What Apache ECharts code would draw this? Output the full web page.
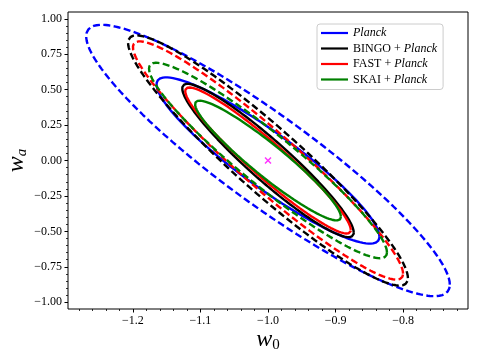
<!DOCTYPE html>
<html><head><meta charset="utf-8">
<script src="https://cdn.jsdelivr.net/npm/echarts@6/dist/echarts.min.js"></script>
<style>html,body{margin:0;padding:0;background:#fff}#c{width:480px;height:360px}</style>
</head><body><div id="c"></div>
<script>
// ---- data (Fisher forecast ellipses in the w0-wa plane) ----
const experiments = ['Planck', 'BINGO + Planck', 'FAST + Planck', 'SKAI + Planck'];
const colors = ['#0000ff', '#000000', '#ff0000', '#008000'];
const fiducial = [-1.0, 0.0];
const sigmaW0 = [0.1085, 0.0835, 0.0806, 0.0710];
const sigmaWa = [0.386, 0.356, 0.339, 0.278];
const rho = [-0.915, -0.94, -0.95, -0.94];
const contourLevels = [1.52, 2.48];           // 68% (solid) and 95% (dashed)
const xTicks = [-1.2, -1.1, -1.0, -0.9, -0.8];
const yTicks = [-1.0, -0.75, -0.5, -0.25, 0.0, 0.25, 0.5, 0.75, 1.0];
const xRange = [-1.296, -0.704];
const yRange = [-1.048, 1.048];

function ellipse(i, k) {
  const pts = [], N = 240, s = Math.sqrt(1 - rho[i] * rho[i]);
  for (let j = 0; j <= N; j++) {
    const t = 2 * Math.PI * j / N, c = Math.cos(t), sn = Math.sin(t);
    pts.push([fiducial[0] + k * sigmaW0[i] * c,
              fiducial[1] + k * sigmaWa[i] * (rho[i] * c + s * sn)]);
  }
  return pts;
}
const xMinor = [], yMinor = [];
for (let v = -1.28; v <= -0.715; v += 0.02) xMinor.push(+v.toFixed(2));
for (let v = -1.0; v <= 1.04; v += 0.05) yMinor.push(+v.toFixed(2));

const fmt = (v, d) => (v < -1e-9 ? '\u2212' : '') + Math.abs(v).toFixed(d);
const serif = 'Liberation Serif';

const series = [];
experiments.forEach((name, i) => {
  series.push({
    type: 'line', name: name, data: ellipse(i, contourLevels[0]),
    showSymbol: false, symbol: 'none', smooth: false, silent: true,
    lineStyle: { color: colors[i], width: 2.4, type: 'solid' },
    itemStyle: { color: colors[i] }, z: 2 + i
  });
  series.push({
    type: 'line', name: name, data: ellipse(i, contourLevels[1]),
    showSymbol: false, symbol: 'none', smooth: false, silent: true,
    lineStyle: { color: colors[i], width: 2.4, type: [7, 3.4] },
    itemStyle: { color: colors[i] }, z: 2 + i
  });
});
series.push({
  type: 'scatter', data: [fiducial], symbolSize: 7, z: 10,
  symbol: 'path://M0,1.5L1.5,0L5,3.5L8.5,0L10,1.5L6.5,5L10,8.5L8.5,10L5,6.5L1.5,10L0,8.5L3.5,5Z',
  itemStyle: { color: '#ff00ff' }
});

const chart = echarts.init(document.getElementById('c'), null, { renderer: 'canvas' });
chart.setOption({
  animation: false,
  backgroundColor: '#fff',
  grid: { left: 68, right: 12, top: 12, bottom: 51, outerBoundsMode: 'none', containLabel: false,
    show: true, borderColor: '#000', borderWidth: 1, backgroundColor: 'transparent' },
  legend: {
    data: experiments,
    orient: 'vertical', left: 317, top: 24,
    padding: [3, 6, 4, 4], itemGap: 3.5, itemWidth: 27, itemHeight: 12,
    icon: 'path://M0,0L27,0L27,2.2L0,2.2Z', symbolKeepAspect: true,
    borderColor: '#cccccc', borderWidth: 1, borderRadius: 3,
    backgroundColor: 'rgba(255,255,255,0.8)',
    formatter: n => n.replace('Planck', '{i|Planck}'),
    textStyle: { fontFamily: serif, fontSize: 12, color: '#000', lineHeight: 12,
      rich: { i: { fontFamily: serif, fontSize: 12, fontStyle: 'italic', color: '#000' } } }
  },
  xAxis: [{
    type: 'value', min: xRange[0], max: xRange[1], position: 'bottom',
    axisLine: { show: false, onZero: false }, splitLine: { show: false },
    axisTick: { customValues: xTicks, length: 3.5, lineStyle: { color: '#000', width: 1 } },
    axisLabel: { customValues: xTicks, formatter: v => fmt(v, 1),
      fontFamily: serif, fontSize: 12, color: '#000', margin: 6 },
    name: '{w|w}{z|0}', nameLocation: 'middle', nameGap: 17, nameMoveOverlap: false,
    nameTextStyle: { rich: {
      w: { fontFamily: serif, fontStyle: 'italic', fontSize: 24, color: '#000' },
      z: { fontFamily: serif, fontSize: 15, color: '#000', padding: [12, 0, 0, 0] } } }
  }, {
    type: 'value', min: xRange[0], max: xRange[1], position: 'bottom',
    axisLine: { show: false, onZero: false }, splitLine: { show: false }, axisLabel: { show: false },
    axisTick: { customValues: xMinor, length: 2, lineStyle: { color: '#000', width: 0.8 } }
  }],
  yAxis: [{
    type: 'value', min: yRange[0], max: yRange[1], position: 'left',
    axisLine: { show: false, onZero: false }, splitLine: { show: false },
    axisTick: { customValues: yTicks, length: 3.5, lineStyle: { color: '#000', width: 1 } },
    axisLabel: { customValues: yTicks, formatter: v => fmt(v, 2),
      fontFamily: serif, fontSize: 12, color: '#000', margin: 6 },
    name: '{w|w}{s|a}', nameLocation: 'middle', nameGap: 38, nameRotate: 90, nameMoveOverlap: false,
    nameTextStyle: { rich: {
      w: { fontFamily: serif, fontStyle: 'italic', fontSize: 24, color: '#000' },
      s: { fontFamily: serif, fontStyle: 'italic', fontSize: 15, color: '#000', padding: [12, 0, 0, 0] } } }
  }, {
    type: 'value', min: yRange[0], max: yRange[1], position: 'left',
    axisLine: { show: false, onZero: false }, splitLine: { show: false }, axisLabel: { show: false },
    axisTick: { customValues: yMinor, length: 2, lineStyle: { color: '#000', width: 0.8 } }
  }],
  series: series
});
</script></body></html>
